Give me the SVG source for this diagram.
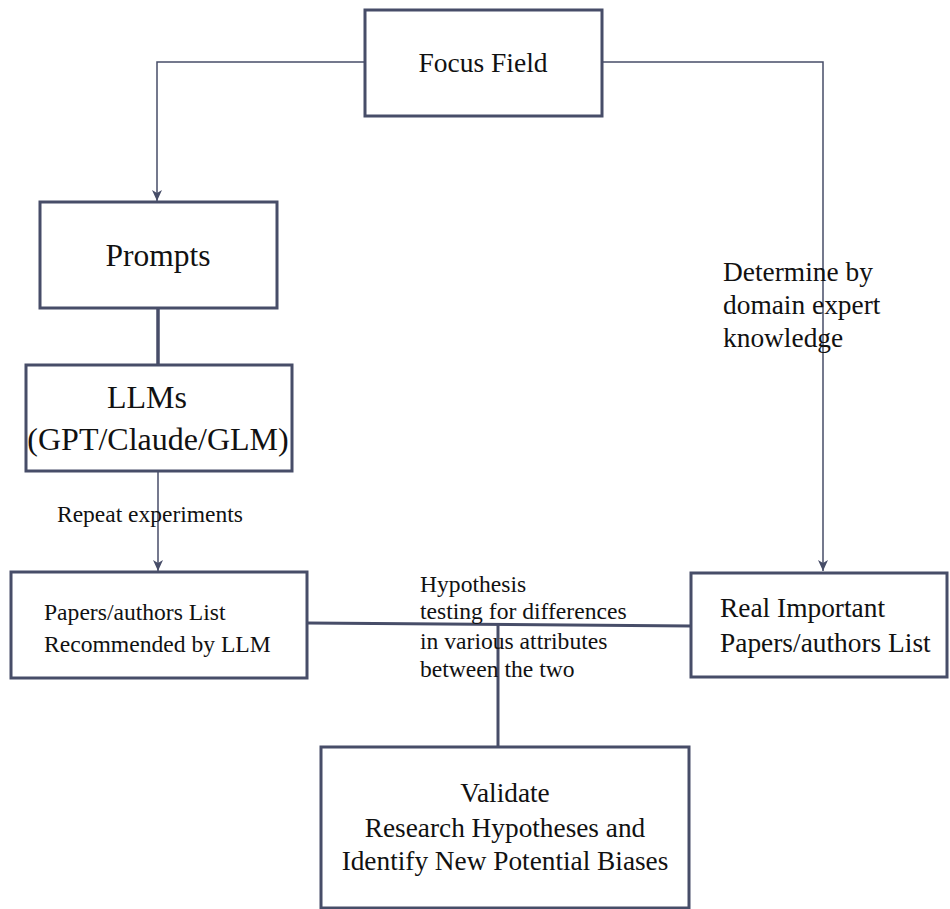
<svg xmlns="http://www.w3.org/2000/svg" width="950" height="909" viewBox="0 0 950 909">
<style>
.box{fill:#fff;stroke:#474d68;stroke-width:3}
.ln{fill:none;stroke:#474d68}
text{fill:#111}
</style>
<defs>
<marker id="arr" markerUnits="userSpaceOnUse" markerWidth="12" markerHeight="12" viewBox="0 0 12 12" refX="11" refY="6" orient="auto">
<path d="M0,1 L11,6 L0,11 L3,6 z" fill="#474d68"/>
</marker>
</defs>
<rect width="950" height="909" fill="#fff"/>
<g id="connectors">
<path class="ln" stroke-width="1.5" d="M365,62 H157 V201" marker-end="url(#arr)"/>
<path class="ln" stroke-width="1.5" d="M602,62 H823 V571" marker-end="url(#arr)"/>
<path class="ln" stroke-width="3.5" d="M158,308 V365"/>
<path class="ln" stroke-width="1.5" d="M158,471 V571" marker-end="url(#arr)"/>
<path class="ln" stroke-width="3" d="M307,623 L691,626"/>
<path class="ln" stroke-width="3" d="M498,625 V747"/>
</g>
<g font-family="Liberation Serif, DejaVu Serif, serif">
<g id="focus">
<rect class="box" x="365" y="10" width="237" height="106"/>
<text x="483" y="72" font-size="27.5" text-anchor="middle">Focus Field</text>
</g>
<g id="prompts">
<rect class="box" x="40" y="202" width="237" height="106"/>
<text x="158" y="266" font-size="31.5" text-anchor="middle">Prompts</text>
</g>
<g id="llms">
<rect class="box" x="26" y="365" width="266" height="106"/>
<text x="147" y="408" font-size="32" text-anchor="middle">LLMs</text>
<text x="158" y="450" font-size="32" text-anchor="middle">(GPT/Claude/GLM)</text>
</g>
<g id="repeat-label">
<text x="57" y="522" font-size="23.5">Repeat experiments</text>
</g>
<g id="papers">
<rect class="box" x="11" y="572" width="296" height="106"/>
<text x="44" y="620" font-size="23.6">Papers/authors List</text>
<text x="44" y="652" font-size="23.6">Recommended by LLM</text>
</g>
<g id="real">
<rect class="box" x="691" y="573" width="256" height="104"/>
<text x="720" y="617" font-size="27.4">Real Important</text>
<text x="720" y="652" font-size="27.4">Papers/authors List</text>
</g>
<g id="determine-label">
<text x="723" y="281" font-size="27.4">Determine by</text>
<text x="723" y="314" font-size="27.4">domain expert</text>
<text x="723" y="347" font-size="27.4">knowledge</text>
</g>
<g id="hypothesis-label">
<text x="420" y="592" font-size="23.6">Hypothesis</text>
<text x="420" y="619" font-size="23.6">testing for differences</text>
<text x="420" y="649" font-size="23.6">in various attributes</text>
<text x="420" y="677" font-size="23.6">between the two</text>
</g>
<g id="validate">
<rect class="box" x="321" y="747" width="368" height="161"/>
<text x="505" y="802" font-size="27.3" text-anchor="middle">Validate</text>
<text x="505" y="837" font-size="27.3" text-anchor="middle">Research Hypotheses and</text>
<text x="505" y="870" font-size="27.3" text-anchor="middle">Identify New Potential Biases</text>
</g>
</g>
</svg>
